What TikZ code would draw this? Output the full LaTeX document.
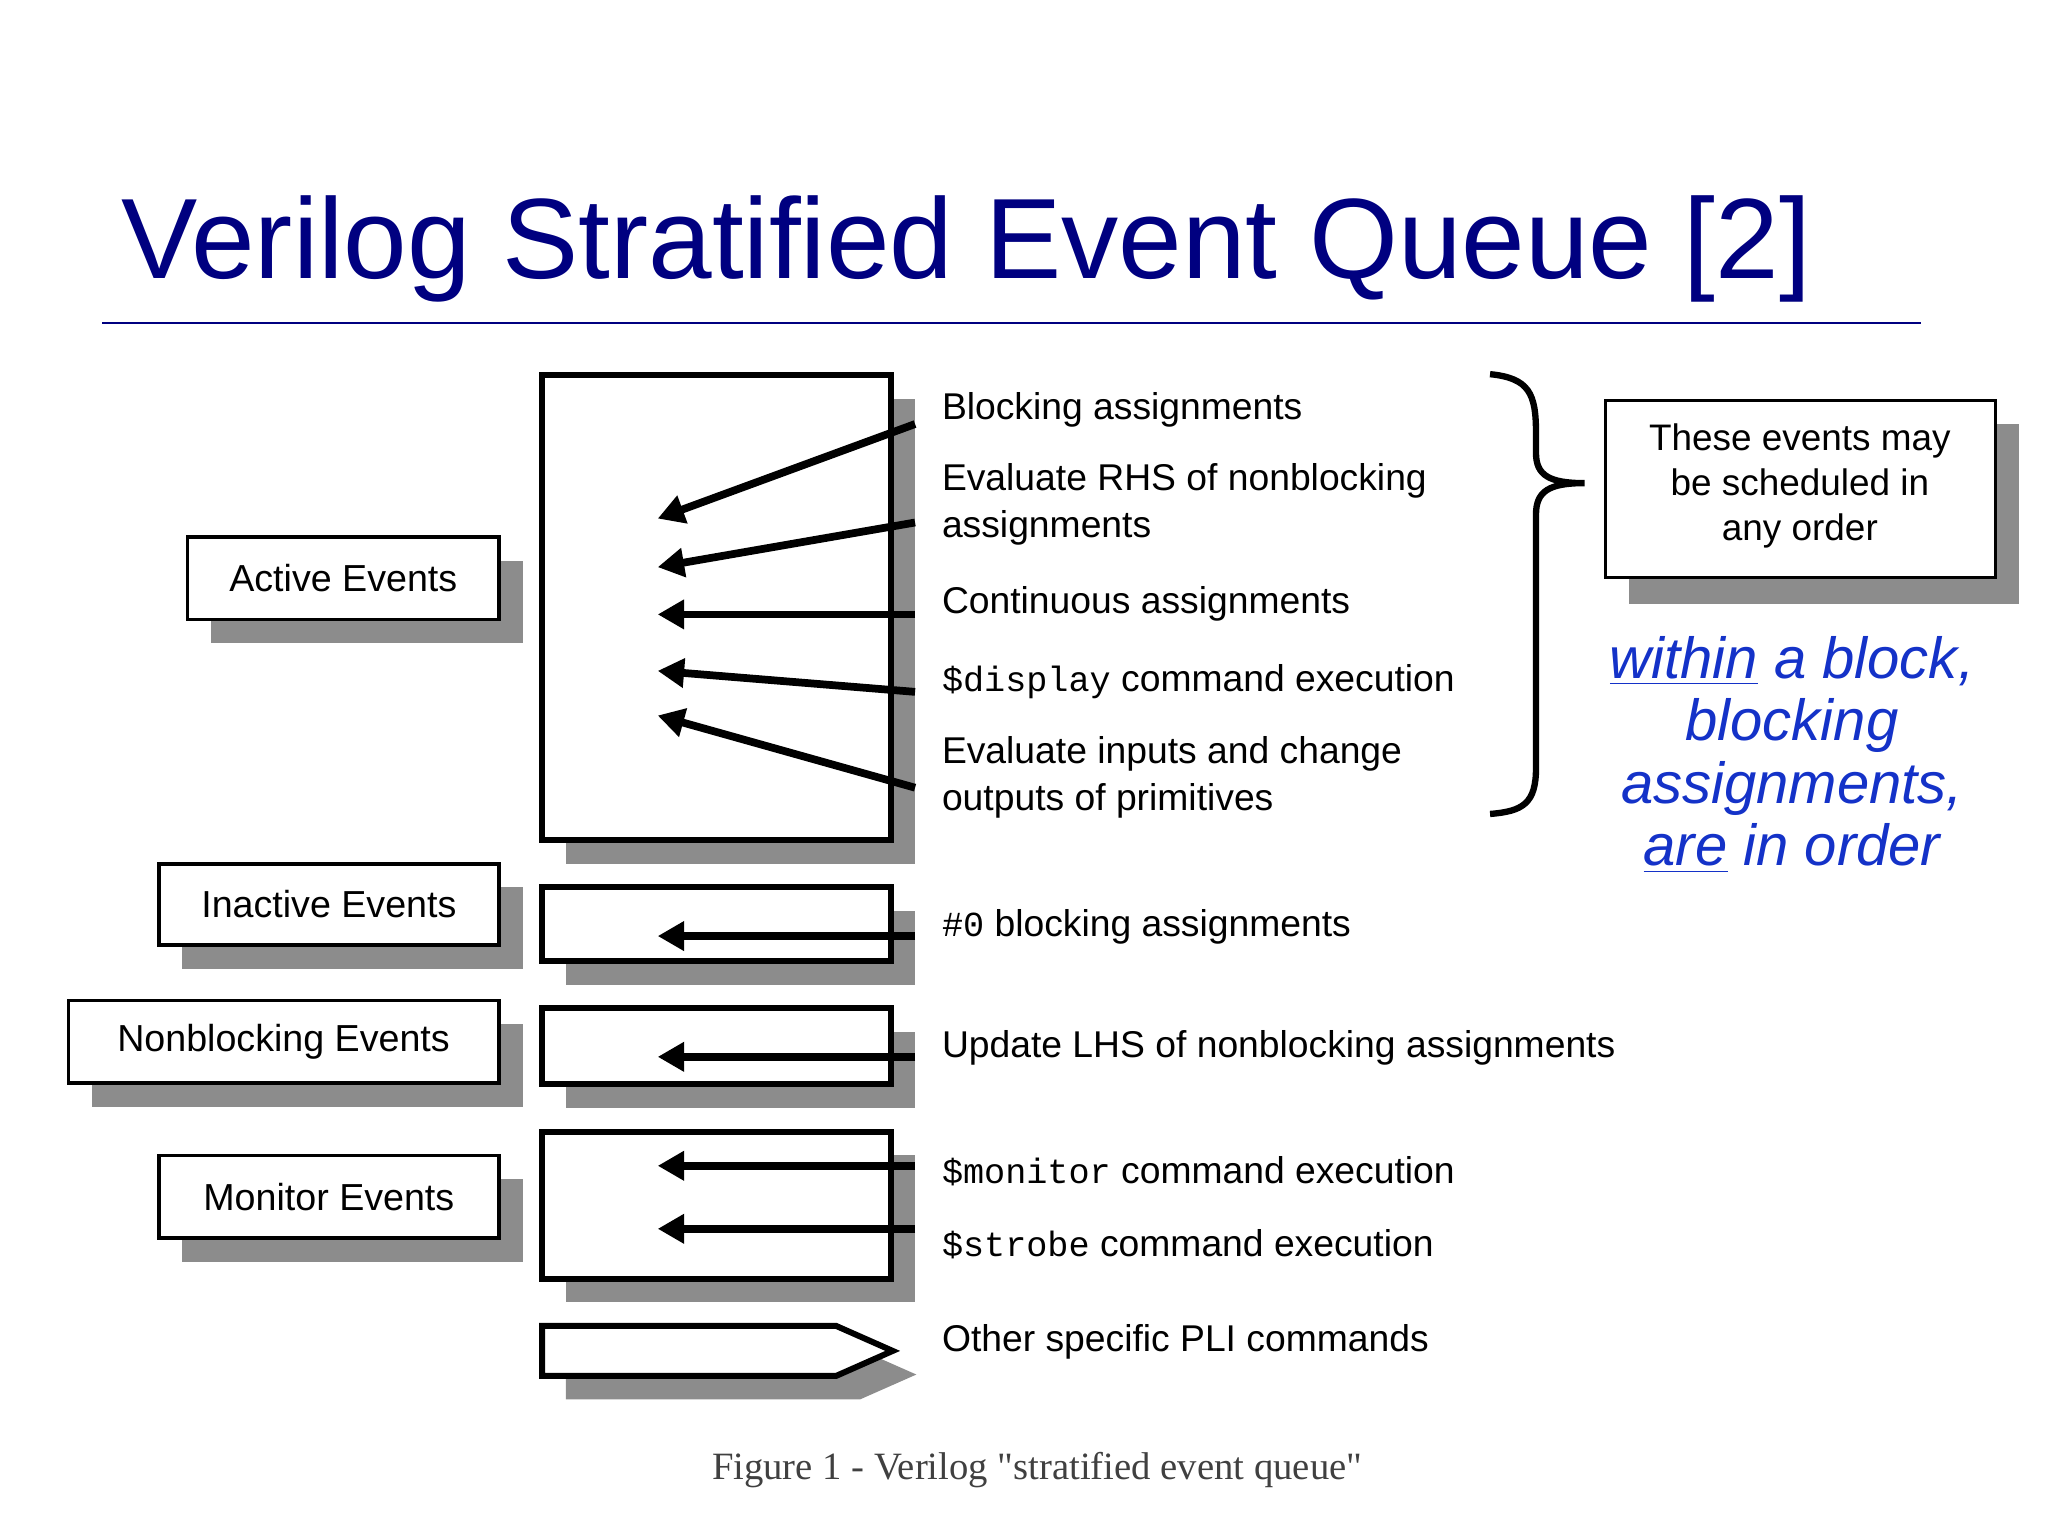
\documentclass[tikz,border=0pt]{standalone}
\usepackage{fontspec}
\setmainfont{Liberation Sans}
\setmonofont{Liberation Mono}
\newfontfamily\capfont{Liberation Serif}
\usetikzlibrary{arrows.meta}
\definecolor{navy}{RGB}{0,0,128}
\definecolor{ublue}{RGB}{20,50,200}
\definecolor{shad}{RGB}{140,140,140}
\begin{document}
\begin{tikzpicture}[x=0.013128cm,y=-0.013128cm,
  box/.style={draw=black,line width=1.7pt,fill=white},
  lbl/.style={draw=black,line width=1pt,fill=white},
  sh/.style={fill=shad,draw=none},
  arr/.style={line width=2.2pt,-{Triangle[length=7.5pt,width=8pt]}},
  txt/.style={anchor=west,font=\fontsize{10.6}{13.5}\selectfont,align=left,inner sep=0pt},
  lt/.style={font=\fontsize{10.7}{12}\selectfont}]
\useasboundingbox (0,0) rectangle (1560,1170);
\node[anchor=west,text=navy,font=\fontsize{32.5}{38}\selectfont,inner sep=0pt] (title) at (92,190) {Verilog Stratified Event Queue [2]};
\draw[navy,line width=0.8pt] (78,246) coordinate (tl) -- (1463,246) coordinate (tr);
% label boxes
\foreach \n/\a/\b/\c/\d/\t in {ae/143/409/380/472/Active Events,ie/121/658/380/720/Inactive Events,ne/52/762/380/825/Nonblocking Events,me/121/880/380/943/Monitor Events}{
  \fill[sh] (\a+18,\b+18) rectangle (\c+18,\d+18);
  \draw[lbl] (\a,\b) rectangle (\c,\d);
  \node[lt] (\n) at ({(\a+\c)/2},{(\b+\d)/2}) {\t};
}
% queue boxes
\foreach \n/\a/\b/\c/\d in {qa/413/286/679/640,qi/413/676/679/732,qn/413/768/679/826,qm/413/862/679/974}{
  \fill[sh] (\a+18,\b+18) rectangle (\c+18,\d+18);
  \draw[box] (\a,\b) rectangle (\c,\d);
  \coordinate (\n) at (\a,\b);
}
\fill[sh] (431,1028) -- (655,1028) -- (698,1047) -- (655,1066) -- (431,1066) -- cycle;
\draw[box] (413,1010) -- (637,1010) -- (680,1029) -- (637,1048) -- (413,1048) -- cycle;
% arrows
\foreach \y/\z in {323/395,398/432,468/468,527/511,600/545,713/713,805/805,888/888,936/936}{
  \draw[arr] (697,\y) -- (501,\z);
}
% texts
\node[txt] (t1) at (717,312) {Blocking assignments};
\node[txt] (t2) at (717,384) {Evaluate RHS of nonblocking\\assignments};
\node[txt] (t3) at (717,460) {Continuous assignments};
\node[txt] (t4) at (717,519) {{\fontsize{10}{13}\selectfont\texttt{\$display}} command execution};
\node[txt] (t5) at (717,592) {Evaluate inputs and change\\outputs of primitives};
\node[txt] (t6) at (717,706) {{\fontsize{10}{13}\selectfont\texttt{\#0}} blocking assignments};
\node[txt] (t7) at (717,798) {Update LHS of nonblocking assignments};
\node[txt] (t8) at (717,892) {{\fontsize{10}{13}\selectfont\texttt{\$monitor}} command execution};
\node[txt] (t9) at (717,948) {{\fontsize{10}{13}\selectfont\texttt{\$strobe}} command execution};
\node[txt] (t10) at (717,1022) {Other specific PLI commands};
% brace
\draw[line width=1.8pt] (1135,285) coordinate (b1) .. controls (1165,288) and (1170,300) .. (1170,330)
  -- (1170,345) .. controls (1170,362) and (1180,368) .. (1207,368) coordinate (btip)
  .. controls (1180,368) and (1170,374) .. (1170,392) -- (1170,585)
  .. controls (1170,612) and (1160,618) .. (1135,620) coordinate (b2);
% right box
\fill[sh] (1241,323) rectangle (1538,460);
\draw[lbl] (1223,305) rectangle (1520,440);
\node[lt,align=center,font=\fontsize{10.5}{12.8}\selectfont] (rb) at (1371,370) {These events may\\be scheduled in\\any order};
\node[text=ublue,align=center,font=\fontsize{16.5}{17.8}\selectfont\itshape] (note) at (1365,575) {\underline{within} a block,\\blocking\\assignments,\\\underline{are} in order};
\node[text=black!75,font=\capfont\fontsize{11}{13}\selectfont] (cap) at (790,1120) {Figure 1 - Verilog "stratified event queue"};
\end{tikzpicture}
\end{document}
